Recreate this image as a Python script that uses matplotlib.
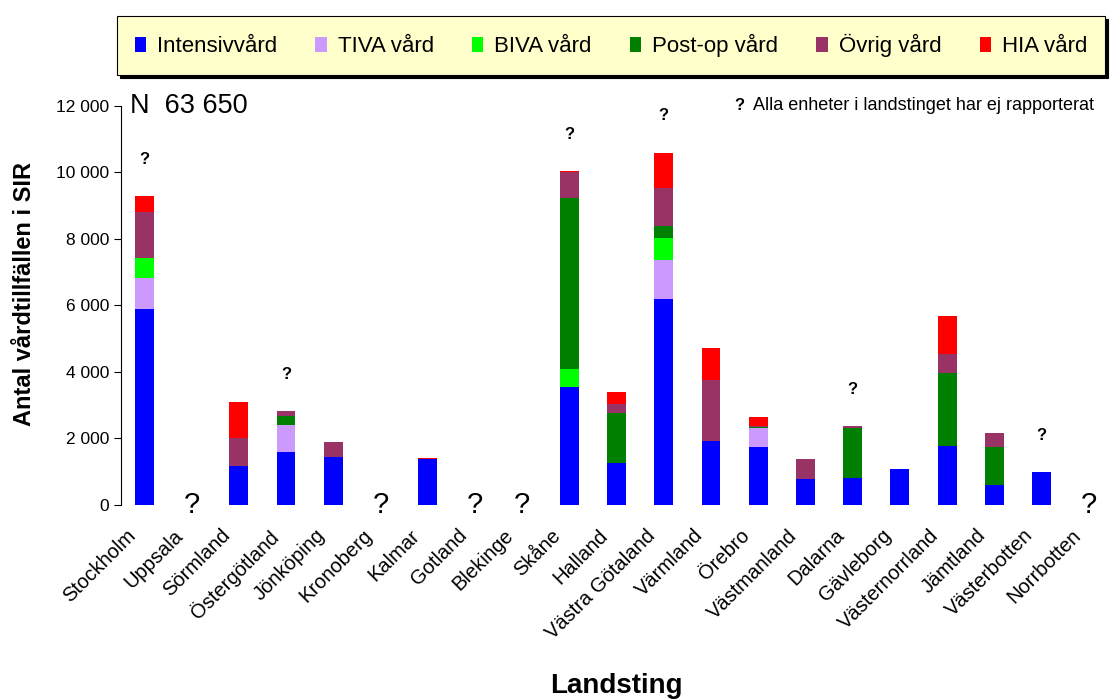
import matplotlib
import numpy as np
from matplotlib import pyplot as plt
from matplotlib.patches import Patch
from matplotlib.ticker import FuncFormatter, MultipleLocator
from matplotlib.transforms import ScaledTranslation

matplotlib.use('Agg')
plt.rcParams['font.family'] = ['Liberation Sans', 'DejaVu Sans']

# landsting
landsting = ["Stockholm", "Uppsala", "Sörmland", "Östergötland", "Jönköping",
             "Kronoberg", "Kalmar", "Gotland", "Blekinge", "Skåne", "Halland",
             "Västra Götaland", "Värmland", "Örebro", "Västmanland", "Dalarna",
             "Gävleborg", "Västernorrland", "Jämtland", "Västerbotten", "Norrbotten"]

# antal vårdtillfällen per vårdtyp
intensivvard = [5880, 0, 1180, 1600, 1450, 0, 1380, 0, 0, 3550, 1270,
                6180, 1920, 1750, 780, 820, 1080, 1780, 600, 1000, 0]
tiva_vard = [940, 0, 0, 800, 0, 0, 0, 0, 0, 0, 0,
             1200, 0, 570, 0, 0, 0, 0, 0, 0, 0]
biva_vard = [600, 0, 0, 0, 0, 0, 0, 0, 0, 540, 0,
             640, 0, 0, 0, 0, 0, 0, 0, 0, 0]
postop_vard = [0, 0, 0, 280, 0, 0, 0, 0, 0, 5130, 1500,
               360, 0, 30, 0, 1500, 0, 2180, 1140, 0, 0]
ovrig_vard = [1380, 0, 840, 140, 440, 0, 0, 0, 0, 800, 280,
              1140, 1840, 30, 600, 60, 0, 580, 420, 0, 0]
hia_vard = [500, 0, 1080, 0, 0, 0, 40, 0, 0, 30, 340,
            1080, 960, 270, 0, 0, 0, 1140, 0, 0, 0]

# landsting utan data / med ofullständig rapportering
saknas = ["Uppsala", "Kronoberg", "Gotland", "Blekinge", "Norrbotten"]
ofullstandig = ["Stockholm", "Östergötland", "Skåne", "Västra Götaland",
                "Dalarna", "Västerbotten"]

serier = [("Intensivvård", intensivvard, "#0000FF"),
          ("TIVA vård", tiva_vard, "#CC99FF"),
          ("BIVA vård", biva_vard, "#00FF00"),
          ("Post-op vård", postop_vard, "#008000"),
          ("Övrig vård", ovrig_vard, "#993366"),
          ("HIA vård", hia_vard, "#FF0000")]

fig = plt.figure(figsize=(11.18, 7.0), dpi=100)
ax = fig.add_axes([0.108, 0.2786, 0.887, 0.57])

x = np.arange(len(landsting))
bottom = np.zeros(len(landsting))
for namn, varden, farg in serier:
    varden = np.array(varden, dtype=float)
    ax.bar(x, varden, width=0.4, bottom=bottom, color=farg, linewidth=0)
    bottom += varden

# frågetecken
for i, namn in enumerate(landsting):
    if namn in saknas:
        ax.text(i, 0, "?", ha='center', va='center', fontsize=21)
    if namn in ofullstandig:
        ax.text(i, bottom[i] + 1100, "?", ha='center', va='center',
                fontsize=12, fontweight='bold')

ax.set_xlim(-0.5, len(landsting) - 0.5)
ax.set_ylim(0, 12000)
ax.yaxis.set_major_locator(MultipleLocator(2000))
ax.yaxis.set_major_formatter(FuncFormatter(lambda v, p: f"{int(v):,}".replace(",", " ")))
ax.tick_params(axis='y', labelsize=12.5, length=5, width=0.8)
ax.set_xticks(x)
ax.set_xticklabels(landsting, rotation=45, ha='right', va='top',
                   rotation_mode='anchor', fontsize=14.5)
ax.tick_params(axis='x', length=0, pad=15)
skift = ScaledTranslation(-0.18, 0, fig.dpi_scale_trans)
for lbl in ax.get_xticklabels():
    lbl.set_transform(lbl.get_transform() + skift)
for s in ["top", "right", "bottom"]:
    ax.spines[s].set_visible(False)
ax.spines["left"].set_linewidth(0.8)

ax.set_ylabel("Antal vårdtillfällen i SIR", fontsize=17, fontweight='bold')
ax.yaxis.set_label_coords(-0.085, 0.53)
ax.set_xlabel("Landsting", fontsize=20, fontweight='bold')
ax.xaxis.set_label_coords(0.5, -0.42)

ax.text(0.009, 1.0, "N  63 650", transform=ax.transAxes, fontsize=19.5, va='center', ha='left')
ax.text(0.619, 1.0, "?", transform=ax.transAxes, fontsize=12, fontweight='bold', va='center')
ax.text(0.638, 1.0, "Alla enheter i landstinget har ej rapporterat", transform=ax.transAxes,
        fontsize=13, va='center')

handles = [Patch(facecolor=f, edgecolor='none', label=n) for n, v, f in serier]
leg = fig.legend(handles=handles, loc='center left',
                 bbox_to_anchor=(117 / 1118, 1 - 45.5 / 700, 988 / 1118, 0), mode='expand',
                 ncol=6, fontsize=16, frameon=True, fancybox=False,
                 shadow={'color': 'black', 'alpha': 1},
                 handlelength=0.5, handleheight=0.7, handletextpad=0.5,
                 borderpad=0.8, borderaxespad=0)
leg.get_frame().set_facecolor('#FFFFCC')
leg.get_frame().set_edgecolor('black')
leg.get_frame().set_linewidth(0.8)

plt.savefig("out.png", dpi=100)
